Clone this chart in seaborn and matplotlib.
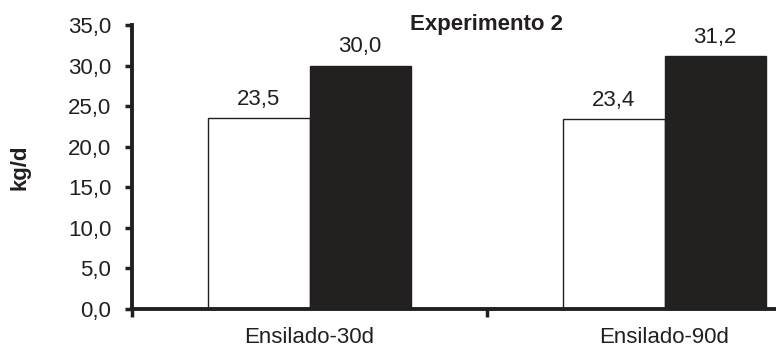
import numpy as np
import pandas as pd
import matplotlib
matplotlib.use("Agg")
import matplotlib.pyplot as plt
import seaborn as sns

# dados
categorias = ["Ensilado-30d", "Ensilado-90d"]
serie_a = [23.5, 23.4]
serie_b = [30.0, 31.2]
nomes_series = ["Serie A", "Serie B"]
yticks = [0, 5, 10, 15, 20, 25, 30, 35]

df = pd.DataFrame({
    "cat": categorias * 2,
    "serie": [nomes_series[0]] * 2 + [nomes_series[1]] * 2,
    "valor": serie_a + serie_b,
})

sns.set_style("white")
plt.rcParams["font.family"] = ["Liberation Sans", "DejaVu Sans"]
FS = 16

fig = plt.figure(figsize=(7.76, 3.47), dpi=100)
ax = fig.add_axes([132 / 776, 1 - 309 / 347, 644 / 776, (309 - 25) / 347])

sns.barplot(data=df, x="cat", y="valor", hue="serie", order=categorias,
            hue_order=nomes_series, palette=["white", "#231f20"],
            width=0.57, edgecolor="#231f20", linewidth=1.0, legend=False,
            errorbar=None, ax=ax)

for c in ax.containers:
    ax.bar_label(c, labels=[f"{v:.1f}".replace(".", ",") for v in c.datavalues],
                 padding=6, fontsize=FS, color="#231f20")

ax.set_yticks(yticks)
ax.set_yticklabels([f"{v:.1f}".replace(".", ",") for v in yticks], fontsize=FS)
ax.tick_params(axis="y", length=5, width=2.5, color="#231f20", pad=10,
               labelcolor="#231f20", left=True)
ax.tick_params(axis="x", which="major", length=0, pad=13, labelsize=FS,
               labelcolor="#231f20")
ax.set_xticks([-0.5, 0.5, 1.5], minor=True)
ax.tick_params(axis="x", which="minor", length=6, width=2.5, color="#231f20",
               bottom=True)
ax.set_xlim(-0.5, -0.5 + 644 / 355)
ax.set_ylim(0, 35)

for s in ["top", "right"]:
    ax.spines[s].set_visible(False)
for s in ["left", "bottom"]:
    ax.spines[s].set_linewidth(2.8)
    ax.spines[s].set_color("#231f20")

ax.set_xlabel("")
ax.set_ylabel("kg/d", fontsize=FS, fontweight="bold", labelpad=27, color="#231f20")
ax.text(0.5, 35.1, "Experimento 2", ha="center", va="center", fontsize=FS,
        fontweight="bold", color="#231f20")

fig.savefig("out.png", dpi=100)
